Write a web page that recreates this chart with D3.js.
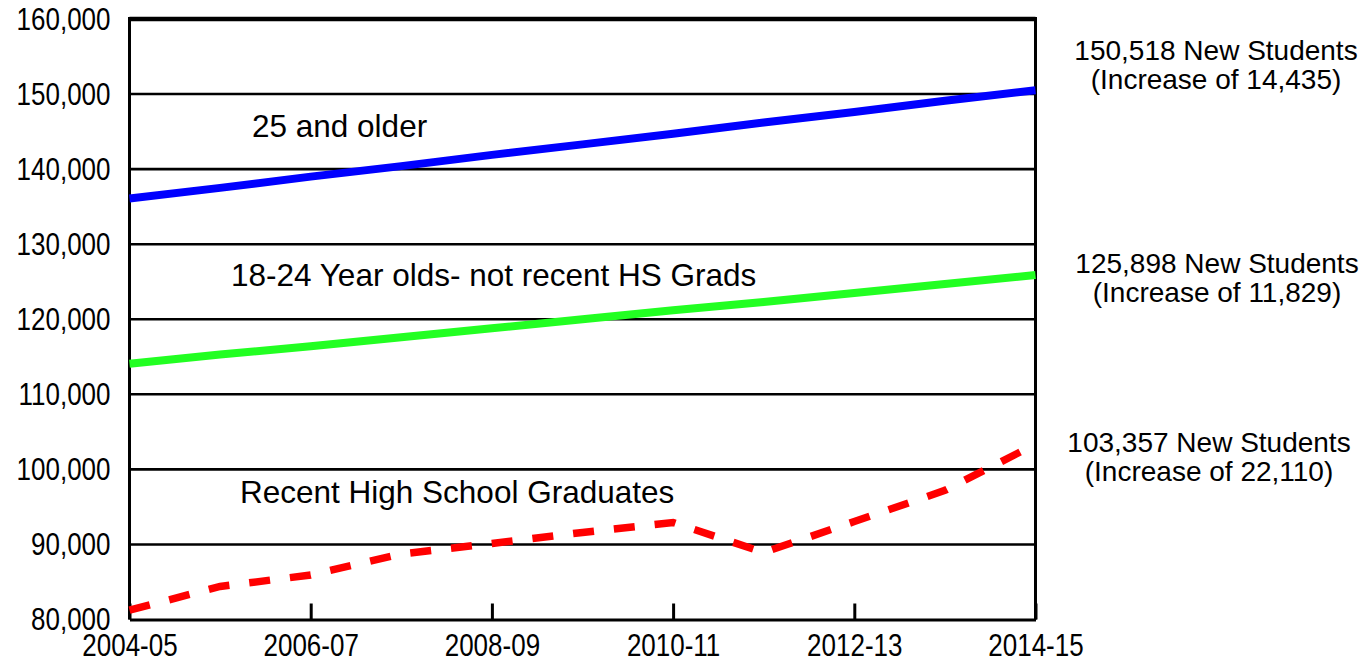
<!DOCTYPE html>
<html>
<head>
<meta charset="utf-8">
<script src="https://cdn.jsdelivr.net/npm/d3@7"></script>
<style>
  body { margin: 0; background: #fff; }
  text { font-family: Arial, "Liberation Sans", sans-serif; fill: #000; }
</style>
</head>
<body>
<script>
// chart data
var years = ["2004-05", "2005-06", "2006-07", "2007-08", "2008-09", "2009-10",
             "2010-11", "2011-12", "2012-13", "2013-14", "2014-15"];
var tickYears = ["2004-05", "2006-07", "2008-09", "2010-11", "2012-13", "2014-15"];
var yTicks = [80000, 90000, 100000, 110000, 120000, 130000, 140000, 150000, 160000];

var olderValues  = [136083, 137500, 139000, 140400, 141900, 143300, 144700, 146200, 147600, 149100, 150518];
var adultValues  = [114069, 115300, 116400, 117600, 118800, 120000, 121200, 122300, 123500, 124700, 125898];
var recentValues = [81247, 84400, 85930, 88730, 90130, 91600, 92930, 88930, 93050, 97200, 103357];

var seriesNames = ["25 and older", "18-24 Year olds- not recent HS Grads", "Recent High School Graduates"];
var endNotes = [
  ["150,518 New Students", "(Increase of 14,435)"],
  ["125,898 New Students", "(Increase of 11,829)"],
  ["103,357 New Students", "(Increase of 22,110)"]
];

var width = 1363,
    height = 660;

var svg = d3.select("body").append("svg")
    .attr("width", width)
    .attr("height", height);

// scales
var x = d3.scalePoint()
    .domain(years)
    .range([129.5, 1035.5]);

var y = d3.scaleLinear()
    .domain([80000, 160000])
    .range([619.5, 19]);

// horizontal grid lines
svg.append("g")
  .selectAll("line")
  .data(yTicks.filter(function(d) { return d > 80000; }))
  .enter().append("line")
    .attr("x1", x.range()[0])
    .attr("x2", x.range()[1])
    .attr("y1", function(d) { return y(d); })
    .attr("y2", function(d) { return y(d); })
    .attr("stroke", "#000")
    .attr("stroke-width", function(d) { return d == 160000 ? 4.5 : 2.6; });

// right border
svg.append("line")
    .attr("x1", x.range()[1])
    .attr("x2", x.range()[1])
    .attr("y1", y(160000) - 2)
    .attr("y2", y(80000))
    .attr("stroke", "#000")
    .attr("stroke-width", 3);

// y axis
var yAxis = svg.append("g")
    .attr("transform", "translate(" + x.range()[0] + ",0)")
    .call(d3.axisLeft(y)
      .tickValues(yTicks)
      .tickFormat(d3.format(","))
      .tickSize(0)
      .tickPadding(19));
yAxis.select(".domain").attr("stroke-width", 3).attr("d", "M0," + (y(160000) - 2) + "V" + y(80000));
yAxis.selectAll("text")
    .attr("font-size", 26)
    .attr("font-family", "Arial, 'Liberation Sans', sans-serif")
    .attr("dy", "0.34em")
    .attr("transform", "scale(1,1.18)");

// x axis with ticks pointing up into the plot
var xAxis = svg.append("g")
    .attr("transform", "translate(0," + y(80000) + ")")
    .call(d3.axisBottom(x)
      .tickValues(tickYears)
      .tickSizeInner(-16)
      .tickSizeOuter(0));
xAxis.select(".domain").attr("stroke-width", 3);
xAxis.selectAll(".tick line").attr("stroke-width", 3);
xAxis.selectAll("text")
    .attr("font-size", 26)
    .attr("font-family", "Arial, 'Liberation Sans', sans-serif")
    .attr("y", 0)
    .attr("dy", 0)
    .attr("transform", "translate(0,36) scale(1,1.18)");

// the three series
var line = d3.line()
    .x(function(d, i) { return x(years[i]); })
    .y(function(d) { return y(d); });

svg.append("path")
    .datum(recentValues)
    .attr("d", line)
    .attr("fill", "none")
    .attr("stroke", "#ff0000")
    .attr("stroke-width", 7.5)
    .attr("stroke-dasharray", "21,20");

svg.append("path")
    .datum(adultValues)
    .attr("d", line)
    .attr("fill", "none")
    .attr("stroke", "#22ff22")
    .attr("stroke-width", 8);

svg.append("path")
    .datum(olderValues)
    .attr("d", line)
    .attr("fill", "none")
    .attr("stroke", "#0000ff")
    .attr("stroke-width", 8);

// series names inside the plot
var namePos = [[252, 137], [231, 286], [240, 503]];
svg.append("g")
  .selectAll("text")
  .data(seriesNames)
  .enter().append("text")
    .attr("x", function(d, i) { return namePos[i][0]; })
    .attr("y", function(d, i) { return namePos[i][1]; })
    .attr("font-size", 31.5)
    .text(function(d) { return d; });

// notes at the end of each line
var notePos = [[1216, 60], [1217, 273], [1209, 452]];
var notes = svg.append("g")
  .selectAll("text")
  .data(endNotes)
  .enter().append("text")
    .attr("text-anchor", "middle")
    .attr("font-size", 28)
    .attr("transform", function(d, i) { return "translate(" + notePos[i][0] + "," + notePos[i][1] + ")"; });

notes.selectAll("tspan")
  .data(function(d) { return d; })
  .enter().append("tspan")
    .attr("x", 0)
    .attr("y", function(d, i) { return i * 29; })
    .text(function(d) { return d; });
</script>
</body>
</html>
